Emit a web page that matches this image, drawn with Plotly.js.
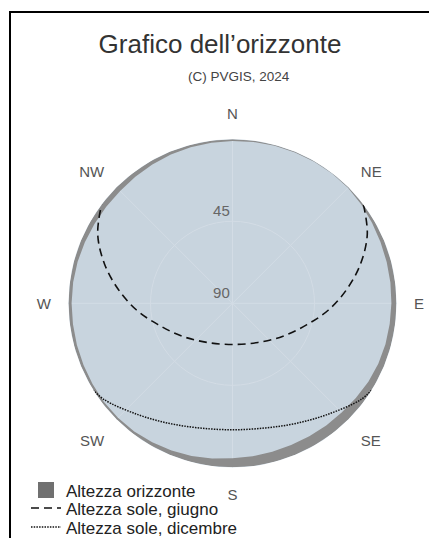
<!DOCTYPE html>
<html>
<head>
<meta charset="utf-8">
<script src="https://cdn.plot.ly/plotly-3.0.1.min.js"></script>
<style>
html,body{margin:0;padding:0;background:#fff;overflow:hidden;}
#chart{position:absolute;left:0;top:0;width:429px;height:538px;}
#frame{position:absolute;left:9px;top:11px;width:600px;height:700px;border-left:2px solid #000;border-top:2px solid #000;pointer-events:none;}
</style>
</head>
<body>
<div id="chart"></div>
<div id="frame"></div>
<script>
// Horizon profile: azimuth (deg from N, clockwise) and horizon elevation (deg)
const horizonAz = [0,7.5,15,22.5,30,37.5,45,52.5,60,67.5,75,82.5,90,97.5,105,112.5,120,127.5,135,142.5,150,157.5,165,172.5,180,187.5,195,202.5,210,217.5,225,232.5,240,247.5,255,262.5,270,277.5,285,292.5,300,307.5,315,322.5,330,337.5,345,352.5];
const horizonEl = [0.9,0.7,0.5,0.4,0.3,0.3,0.4,0.9,1.6,2.1,2.4,2.6,2.8,3.0,3.1,3.4,3.9,4.7,5.3,5.5,5.7,5.9,5.7,5.3,5.0,4.1,3.2,2.5,1.9,1.4,1.1,1.1,1.3,1.5,1.6,1.7,1.7,1.8,2.0,2.3,2.6,2.8,2.8,2.4,2.0,1.6,1.3,1.1];

// Sun path, June
const juneAz = [53,63,73,83,94,106,123,147,180,213,237,254,266,277,287,297,307];
const juneEl = [0,7,16.6,26.8,37.2,47.5,56.9,64.4,67.4,64.4,56.9,47.5,37.2,26.8,16.6,7,0];

// Sun path, December
const decAz = [122,127,139,152,165,180,195,208,221,233,238];
const decEl = [0,2,9.5,15.4,19.2,20.6,19.2,15.4,9.5,2,0];

const compassVals = [0,45,90,135,180,225,270,315];
const compassText = ['N','NE','E','SE','S','SW','W','NW'];
const radialTicks = [45,90];

const names = ['Altezza orizzonte','Altezza sole, giugno','Altezza sole, dicembre'];

// ring between the edge (elevation 0) and the horizon line
const ringTheta = horizonAz.concat([360]).concat(horizonAz.concat([360]).slice().reverse());
const ringR = horizonEl.concat([horizonEl[0]]).concat(horizonAz.concat([360]).map(() => 0));

const W = 429, H = 538;
const cx = 232.5, cy = 303.3, R = 164;

const traces = [
  {type:'scatterpolar', theta:ringTheta, r:ringR, mode:'lines', fill:'toself',
   fillcolor:'#8c8c8c', line:{width:0, color:'#8c8c8c'}, name:names[0], showlegend:false, hoverinfo:'skip'},
  // legend entry for the horizon (square swatch)
  {type:'scatterpolar', theta:[null], r:[null], mode:'markers',
   marker:{symbol:'square', size:16, color:'#707070', line:{width:0}}, name:names[0], legend:'legend'},
  {type:'scatterpolar', theta:juneAz, r:juneEl, mode:'lines',
   line:{color:'#111', width:1.6, dash:'8px,5px', shape:'spline'}, name:names[1], legend:'legend2'},
  {type:'scatterpolar', theta:decAz, r:decEl, mode:'lines',
   line:{color:'#111', width:1.5, dash:'1.5px,1.2px', shape:'spline'}, name:names[2], legend:'legend3'}
];

const fontFam = 'Liberation Sans, Arial, Helvetica, sans-serif';
const legBase = {x:26/W, xanchor:'left', yanchor:'top', bgcolor:'rgba(0,0,0,0)', borderwidth:0,
  font:{family:fontFam, size:17, color:'#222'}};

const layout = {
  width:W, height:H,
  margin:{l:0,r:0,t:0,b:0, autoexpand:false},
  paper_bgcolor:'#fff',
  font:{family:fontFam},
  title:{text:'Grafico dell\u2019orizzonte', x:220/W, xanchor:'center', xref:'paper',
         y:1-44/H, yref:'container', yanchor:'middle', font:{family:fontFam, size:26, color:'#333'}},
  annotations:[{text:'(C) PVGIS, 2024', xref:'paper', yref:'paper', x:239/W, y:1-77/H,
                xanchor:'center', yanchor:'middle', showarrow:false, font:{family:fontFam, size:13.5, color:'#444'}}],
  showlegend:true,
  legend: Object.assign({}, legBase, {y:1-472.5/H}),
  legend2: Object.assign({}, legBase, {y:1-490.5/H}),
  legend3: Object.assign({}, legBase, {y:1-509.5/H}),
  polar:{
    domain:{x:[(cx-R)/W,(cx+R)/W], y:[1-(cy+R)/H, 1-(cy-R)/H]},
    bgcolor:'#c8d4de',
    radialaxis:{range:[90,0], tickvals:radialTicks, ticktext:radialTicks.map(v => v + '<br> '), angle:90,
      side:'counterclockwise', tickangle:90,
      showline:false, ticks:'', gridcolor:'#d3dce5', gridwidth:1,
      tickfont:{family:fontFam, size:15, color:'#666'}},
    angularaxis:{rotation:90, direction:'clockwise', tickvals:compassVals, ticktext:compassText,
      showline:false, ticks:'outside', ticklen:14, tickcolor:'rgba(0,0,0,0)', gridcolor:'#d3dce5', gridwidth:1,
      tickfont:{family:fontFam, size:15, color:'#555'}}
  }
};

Plotly.newPlot('chart', traces, layout, {displayModeBar:false, staticPlot:true});
</script>
</body>
</html>
